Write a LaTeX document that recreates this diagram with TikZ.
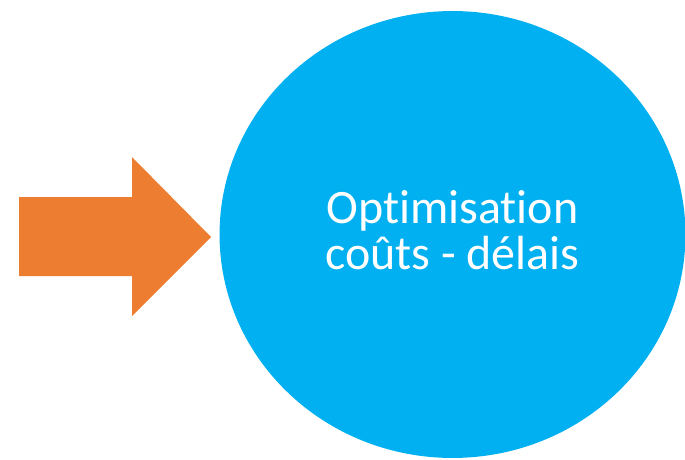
\documentclass[tikz,border=0pt]{standalone}
\usepackage{fontspec}
\setmainfont{Carlito}[RawFeature=-liga]
\usepackage{tikz}
\usetikzlibrary{shapes.geometric}
\definecolor{accorange}{HTML}{ED7D31}
\definecolor{accblue}{HTML}{00B0F0}
\tikzset{
	goal/.style={ellipse, fill=accblue, inner sep=0pt,
		minimum width=9.32cm, minimum height=8.94cm},
	goaltext/.style={text=white, align=center, inner sep=0pt,
		font=\fontsize{27.3}{26.5}\selectfont},
	pusher/.style={fill=accorange}
}

\begin{document}
\begin{tikzpicture}[x=0.02cm, y=-0.02cm]
\useasboundingbox (0,0) rectangle (685,459);
\node[goal] (opt) at (452.5,234.5) {};
\node[goaltext] (lbl) at (452.5,230) {Optimisation\\co\^uts - d\'elais};
\coordinate (tip) at (211,237);
\fill[pusher] (19,197) -- (132,197) -- (132,157) -- (tip) -- (132,316) -- (132,276) -- (19,276) -- cycle;
\end{tikzpicture}
\end{document}
